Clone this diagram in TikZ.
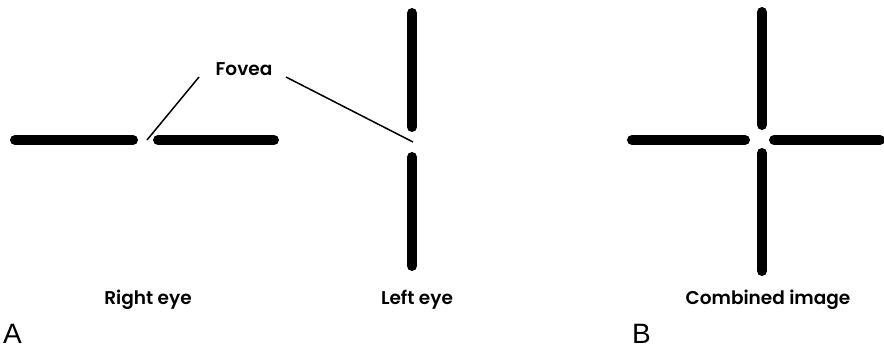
\documentclass[tikz,border=0pt]{standalone}
\usepackage{fontspec}
\setmainfont{Poppins SemiBold}
\newfontfamily\letterfont{Liberation Sans}
\begin{document}
\begin{tikzpicture}[x=1pt,y=-1pt,
  bar/.style={line width=10pt,line cap=round},
  pointer/.style={line width=1.5pt},
  lbl/.style={font=\fontsize{18.5}{20}\selectfont,inner sep=0pt},
  panel/.style={font=\letterfont\fontsize{28}{30}\selectfont,inner sep=0pt,anchor=base west}]
\useasboundingbox (0,0) rectangle (884,349);
% right eye
\coordinate (r1a) at (15,140); \coordinate (r1b) at (133,140);
\coordinate (r2a) at (158,140); \coordinate (r2b) at (274,140);
\draw[bar] (r1a) -- (r1b);
\draw[bar] (r2a) -- (r2b);
% left eye
\coordinate (l1a) at (412,13); \coordinate (l1b) at (412,127);
\coordinate (l2a) at (412,157); \coordinate (l2b) at (412,266);
\draw[bar] (l1a) -- (l1b);
\draw[bar] (l2a) -- (l2b);
% combined
\coordinate (c1a) at (762,12); \coordinate (c1b) at (762,125);
\coordinate (c2a) at (762,153); \coordinate (c2b) at (762,271);
\coordinate (c3a) at (632,140); \coordinate (c3b) at (745,140);
\coordinate (c4a) at (774,140); \coordinate (c4b) at (880,140);
\draw[bar] (c1a) -- (c1b);
\draw[bar] (c2a) -- (c2b);
\draw[bar] (c3a) -- (c3b);
\draw[bar] (c4a) -- (c4b);
% fovea
\node[lbl] (fovea) at (244,69) {Fovea};
\coordinate (fr) at (147,140);
\coordinate (fl) at (413,142);
\coordinate (fs1) at (199,77);
\coordinate (fs2) at (286,77);
\draw[pointer] (fs1) -- (fr);
\draw[pointer] (fs2) -- (fl);
% labels
\node[lbl] (reye) at (148,300) {Right eye};
\node[lbl] (leye) at (417,300) {Left eye};
\node[lbl] (comb) at (768,300) {Combined image};
\node[panel] (pa) at (3,343) {A};
\node[panel] (pb) at (632,343) {B};
\end{tikzpicture}
\end{document}
